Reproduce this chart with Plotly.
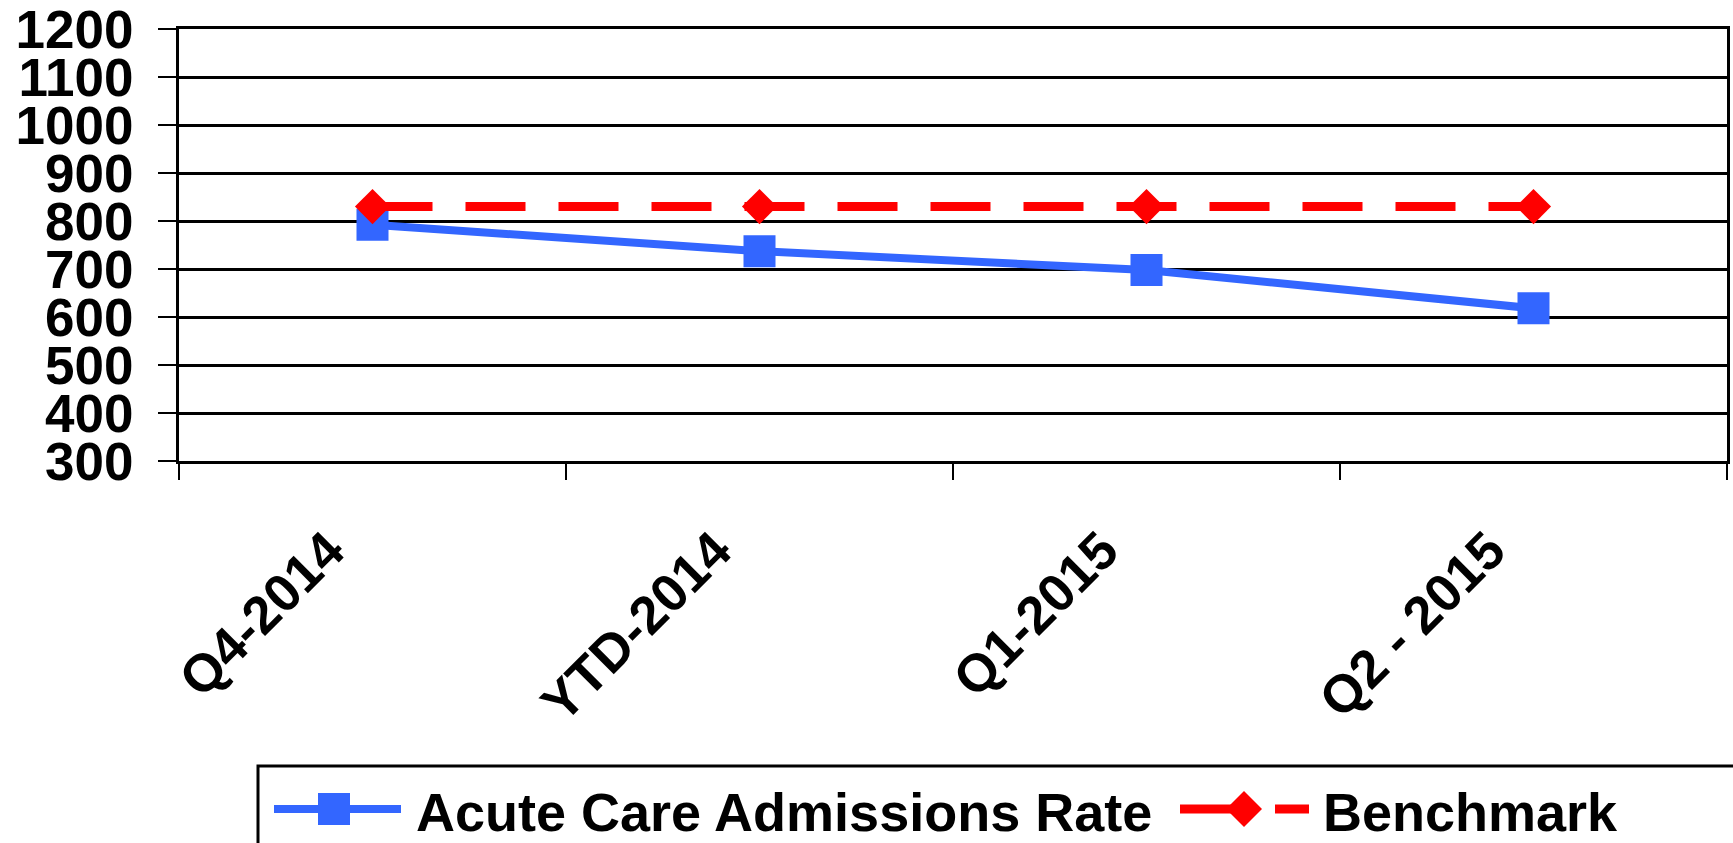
import plotly.graph_objects as go

# Quarterly acute care admissions rate against the benchmark
categories = ["Q4-2014", "YTD-2014", "Q1-2015", "Q2 - 2015"]
admissions_rate = [792, 737, 698, 618]
benchmark = [830, 830, 830, 830]
y_ticks = [300, 400, 500, 600, 700, 800, 900, 1000, 1100, 1200]

W, H = 1733, 843
L_M, R_M, T_M, B_M = 179, 6, 29, 382
PW = W - L_M - R_M
PH = H - T_M - B_M

BLUE = "#3366FF"
RED = "#FF0000"
FONT = "Liberation Sans, Arial, sans-serif"


def px(x):
    return (x - L_M) / PW


def py(y):
    return (H - B_M - y) / PH


fig = go.Figure()

fig.add_trace(go.Scatter(
    x=categories, y=admissions_rate, mode="lines+markers",
    name="Acute Care Admissions Rate",
    line=dict(color=BLUE, width=8),
    marker=dict(symbol="square", size=32, color=BLUE),
    showlegend=False,
))
fig.add_trace(go.Scatter(
    x=categories, y=benchmark, mode="lines+markers",
    name="Benchmark",
    line=dict(color=RED, width=9, dash="60px,33px"),
    marker=dict(symbol="diamond", size=27, color=RED),
    showlegend=False,
))

# Legend drawn as shapes and text along the bottom
LEG_Y = 809
shapes = [
    dict(type="rect", xref="paper", yref="paper",
         x0=px(258), x1=px(1745), y0=py(766), y1=py(860),
         line=dict(color="black", width=3), fillcolor="rgba(0,0,0,0)"),
    dict(type="line", xref="paper", yref="paper",
         x0=px(274), x1=px(401), y0=py(LEG_Y), y1=py(LEG_Y),
         line=dict(color=BLUE, width=8)),
    dict(type="rect", xref="paper", yref="paper",
         x0=px(318), x1=px(350), y0=py(LEG_Y - 16), y1=py(LEG_Y + 16),
         line=dict(width=0), fillcolor=BLUE),
    dict(type="line", xref="paper", yref="paper",
         x0=px(1180), x1=px(1309), y0=py(LEG_Y), y1=py(LEG_Y),
         line=dict(color=RED, width=9, dash="75px,20px")),
    dict(type="path", xref="paper", yref="paper",
         path="M {a},{b} L {c},{d} L {a},{e} L {f},{d} Z".format(
             a=px(1244), b=py(LEG_Y - 18), c=px(1262), d=py(LEG_Y),
             e=py(LEG_Y + 18), f=px(1226)),
         line=dict(width=0), fillcolor=RED),
]

annotations = [
    dict(text="<b>Acute Care Admissions Rate</b>", xref="paper", yref="paper",
         x=px(414), y=py(812), xanchor="left", yanchor="middle",
         showarrow=False, font=dict(family=FONT, size=54, color="black")),
    dict(text="<b>Benchmark</b>", xref="paper", yref="paper",
         x=px(1321), y=py(812), xanchor="left", yanchor="middle",
         showarrow=False, font=dict(family=FONT, size=54, color="black")),
]

fig.update_layout(
    width=W, height=H,
    margin=dict(l=L_M, r=R_M, t=T_M, b=B_M, autoexpand=False),
    paper_bgcolor="white", plot_bgcolor="white",
    shapes=shapes, annotations=annotations,
    showlegend=False,
)

fig.update_xaxes(
    type="category", range=[-0.5, 3.5], automargin=False,
    tickvals=categories, ticktext=["<b>%s</b>" % c for c in categories],
    tickson="boundaries", ticks="outside", ticklen=16, tickwidth=2,
    tickcolor="black", showgrid=False,
    showline=True, linecolor="black", linewidth=3, mirror=True,
    tickangle=-45,
    tickfont=dict(family=FONT, size=53, color="black"),
    ticklabelstandoff=34, ticklabelshift=-44,
    ticklabeloverflow="allow",
)
fig.update_yaxes(
    range=[300, 1200], automargin=False, tickvals=y_ticks,
    ticktext=["<b>%d</b>" % v for v in y_ticks],
    ticks="outside", ticklen=18, tickwidth=2, tickcolor="black",
    showgrid=True, gridcolor="black", gridwidth=3,
    showline=True, linecolor="black", linewidth=3, mirror=True,
    zeroline=False,
    tickfont=dict(family=FONT, size=53, color="black"),
    ticklabelstandoff=14, ticklabeloverflow="allow",
)

fig.write_html("out.html")
